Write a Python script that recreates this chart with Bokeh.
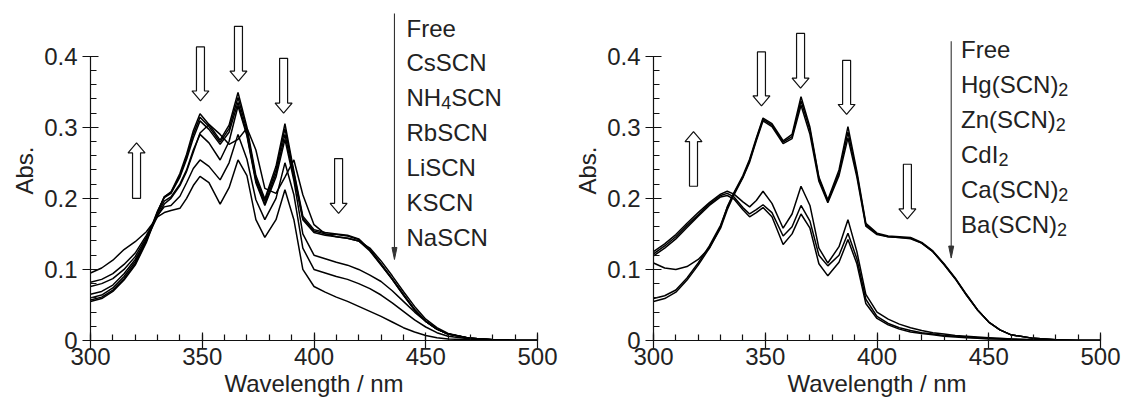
import math, re
from bokeh.plotting import figure
from bokeh.models import Range1d, FixedTicker, CustomJSTickFormatter, Title
from bokeh.layouts import row
from bokeh.embed import file_html
from bokeh.resources import INLINE
from bokeh.core.properties import value

# ---------------- data ----------------
WAVELENGTH = [300, 305, 310, 315, 320, 325, 330, 333, 336, 340, 343, 346, 349, 353, 358, 362, 366, 370,
              374, 378, 383, 387, 391, 395, 400, 405, 410, 415, 420, 425, 430, 435, 440, 445, 450, 455,
              460, 470, 480, 490, 500]

LEFT_NAMES = ["Free", "CsSCN", "NH4SCN", "RbSCN", "LiSCN", "KSCN", "NaSCN"]
left_free = [0.055, 0.059, 0.069, 0.085, 0.106, 0.138, 0.180, 0.202, 0.209, 0.235, 0.262, 0.295, 0.319, 0.304, 0.282, 0.303, 0.349, 0.300,
             0.232, 0.199, 0.245, 0.305, 0.238, 0.175, 0.156, 0.152, 0.150, 0.148, 0.143, 0.128, 0.108, 0.087, 0.065, 0.044, 0.027, 0.016,
             0.009, 0.003, 0.001, 0.0, 0.0]
left_cs = [0.057, 0.061, 0.071, 0.087, 0.108, 0.140, 0.181, 0.202, 0.208, 0.232, 0.258, 0.290, 0.314, 0.301, 0.279, 0.298, 0.342, 0.295,
           0.228, 0.196, 0.240, 0.298, 0.235, 0.172, 0.154, 0.150, 0.149, 0.147, 0.142, 0.127, 0.107, 0.086, 0.064, 0.043, 0.027, 0.016,
           0.009, 0.003, 0.001, 0.0, 0.0]
left_nh4 = [0.060, 0.064, 0.074, 0.090, 0.111, 0.142, 0.182, 0.201, 0.207, 0.230, 0.255, 0.285, 0.309, 0.297, 0.276, 0.293, 0.335, 0.290,
            0.225, 0.192, 0.235, 0.290, 0.230, 0.170, 0.152, 0.148, 0.146, 0.144, 0.140, 0.126, 0.106, 0.086, 0.064, 0.043, 0.027, 0.016,
            0.009, 0.003, 0.001, 0.0, 0.0]
left_rb = [0.065, 0.069, 0.078, 0.094, 0.114, 0.142, 0.175, 0.192, 0.200, 0.218, 0.238, 0.265, 0.292, 0.304, 0.290, 0.276, 0.283, 0.299,
           0.268, 0.214, 0.207, 0.230, 0.254, 0.205, 0.163, 0.150, 0.146, 0.144, 0.140, 0.130, 0.112, 0.091, 0.069, 0.048, 0.030, 0.018,
           0.010, 0.003, 0.001, 0.0, 0.0]
left_li = [0.076, 0.080, 0.087, 0.100, 0.118, 0.145, 0.178, 0.196, 0.202, 0.220, 0.240, 0.268, 0.290, 0.278, 0.254, 0.280, 0.330, 0.288,
           0.222, 0.190, 0.230, 0.283, 0.225, 0.150, 0.120, 0.115, 0.110, 0.106, 0.100, 0.092, 0.083, 0.070, 0.055, 0.040, 0.027, 0.016,
           0.009, 0.003, 0.001, 0.0, 0.0]
left_k = [0.082, 0.086, 0.094, 0.107, 0.123, 0.148, 0.176, 0.188, 0.190, 0.203, 0.222, 0.242, 0.254, 0.245, 0.226, 0.250, 0.290, 0.255,
          0.198, 0.170, 0.200, 0.250, 0.205, 0.130, 0.100, 0.095, 0.090, 0.086, 0.080, 0.073, 0.064, 0.053, 0.041, 0.029, 0.019, 0.011,
          0.006, 0.002, 0.001, 0.0, 0.0]
left_na = [0.095, 0.102, 0.113, 0.128, 0.139, 0.153, 0.174, 0.180, 0.183, 0.186, 0.200, 0.218, 0.231, 0.222, 0.192, 0.215, 0.254, 0.232,
           0.170, 0.145, 0.170, 0.212, 0.170, 0.100, 0.076, 0.068, 0.061, 0.055, 0.048, 0.041, 0.034, 0.026, 0.018, 0.012, 0.007, 0.004,
           0.002, 0.001, 0.0, 0.0, 0.0]

RIGHT_NAMES = ["Free", "Hg(SCN)2", "Zn(SCN)2", "CdI2", "Ca(SCN)2", "Ba(SCN)2"]
right_free = [0.055, 0.059, 0.068, 0.085, 0.106, 0.130, 0.160, 0.188, 0.208, 0.232, 0.255, 0.285, 0.313, 0.305, 0.281, 0.290, 0.343, 0.300,
              0.230, 0.198, 0.240, 0.301, 0.238, 0.165, 0.151, 0.147, 0.146, 0.145, 0.138, 0.126, 0.108, 0.088, 0.065, 0.043, 0.026, 0.015,
              0.008, 0.003, 0.001, 0.0, 0.0]
right_hg = [0.059, 0.063, 0.071, 0.088, 0.109, 0.133, 0.162, 0.187, 0.207, 0.230, 0.253, 0.283, 0.311, 0.303, 0.279, 0.287, 0.337, 0.296,
            0.228, 0.196, 0.236, 0.293, 0.234, 0.163, 0.150, 0.146, 0.145, 0.144, 0.137, 0.125, 0.107, 0.087, 0.064, 0.043, 0.026, 0.015,
            0.008, 0.003, 0.001, 0.0, 0.0]
right_zn = [0.109, 0.102, 0.100, 0.104, 0.114, 0.130, 0.158, 0.184, 0.205, 0.229, 0.251, 0.281, 0.309, 0.301, 0.277, 0.284, 0.331, 0.290,
            0.224, 0.194, 0.232, 0.285, 0.230, 0.161, 0.149, 0.146, 0.145, 0.143, 0.137, 0.125, 0.107, 0.087, 0.064, 0.043, 0.026, 0.015,
            0.008, 0.003, 0.001, 0.0, 0.0]
right_cd = [0.125, 0.136, 0.149, 0.165, 0.180, 0.194, 0.206, 0.210, 0.206, 0.195, 0.188, 0.197, 0.210, 0.193, 0.158, 0.178, 0.217, 0.190,
            0.130, 0.109, 0.132, 0.170, 0.125, 0.065, 0.040, 0.030, 0.023, 0.018, 0.014, 0.011, 0.009, 0.007, 0.006, 0.005, 0.004, 0.003,
            0.002, 0.001, 0.0, 0.0, 0.0]
right_ca = [0.122, 0.133, 0.146, 0.162, 0.177, 0.192, 0.204, 0.207, 0.202, 0.187, 0.178, 0.184, 0.191, 0.180, 0.147, 0.160, 0.190, 0.168,
            0.120, 0.105, 0.120, 0.151, 0.115, 0.058, 0.034, 0.024, 0.018, 0.014, 0.011, 0.009, 0.007, 0.006, 0.005, 0.004, 0.003, 0.002,
            0.002, 0.001, 0.0, 0.0, 0.0]
right_ba = [0.119, 0.130, 0.143, 0.159, 0.175, 0.190, 0.202, 0.204, 0.199, 0.184, 0.174, 0.180, 0.187, 0.174, 0.135, 0.150, 0.178, 0.158,
            0.108, 0.091, 0.110, 0.142, 0.108, 0.052, 0.031, 0.022, 0.016, 0.012, 0.010, 0.008, 0.006, 0.005, 0.004, 0.003, 0.002, 0.002,
            0.001, 0.001, 0.0, 0.0, 0.0]

LEFT_SERIES = [left_free, left_cs, left_nh4, left_rb, left_li, left_k, left_na]
RIGHT_SERIES = [right_free, right_hg, right_zn, right_cd, right_ca, right_ba]

X_TICKS = [300, 350, 400, 450, 500]
Y_TICKS = [0, 0.1, 0.2, 0.3, 0.4]

# block arrows: (wavelength, start absorbance, tip absorbance)
LEFT_ARROWS = [(320.6, 0.200, 0.278), (349.2, 0.413, 0.337), (366.2, 0.442, 0.365),
               (386.4, 0.397, 0.320), (411.0, 0.256, 0.179)]
RIGHT_ARROWS = [(317.9, 0.217, 0.294), (348.3, 0.406, 0.330), (365.8, 0.432, 0.355),
                (386.4, 0.394, 0.318), (413.6, 0.248, 0.171)]

# legend placement: text x, first row y, arrow x, arrow top, arrow bottom
LEFT_LEGEND = dict(tx=441.4, y0=0.4375, ax=436.0, atop=0.460, abot=0.114)
RIGHT_LEGEND = dict(tx=437.6, y0=0.4069, ax=433.2, atop=0.421, abot=0.116)
ROW_STEP = 0.0490

FONT = "Liberation Sans"
TXT = "#222222"
FS = 24
SUB_FS = 18
NM_PER_PX = 200.0 / 447.0
ABS_PER_PX = 1.0 / 710.75

ARIAL_W = {'F': .611, 'r': .333, 'e': .556, 'C': .722, 's': .5, 'S': .667, 'N': .722, 'H': .722,
           'R': .722, 'b': .556, 'L': .556, 'i': .222, 'K': .667, 'a': .556, 'g': .556, '(': .333,
           ')': .333, 'Z': .611, 'n': .556, 'd': .556, 'I': .278, 'B': .667, '2': .556, '4': .556}


def width_px(s, size):
    return sum(ARIAL_W.get(c, .6) for c in s) * size


def make_panel(series, names, arrows, legend, border_left, border_right, abs_offset, title_standoff):
    yr_end = 340 * ABS_PER_PX
    p = figure(frame_width=447, frame_height=340, x_range=Range1d(300, 500), y_range=Range1d(0, yr_end),
               output_backend="svg", toolbar_location=None, min_border_left=border_left,
               min_border_right=border_right, min_border_top=0, min_border_bottom=60,
               background_fill_color="white", border_fill_color="white")
    p.outline_line_color = None
    p.grid.visible = False

    for ax in (p.xaxis[0], p.yaxis[0]):
        ax.axis_line_color = "#111111"
        ax.axis_line_width = 1.2
        ax.major_tick_line_color = "#111111"
        ax.minor_tick_line_color = "#111111"
        ax.major_tick_line_width = 1.2
        ax.minor_tick_line_width = 1.2
        ax.major_tick_in = 8
        ax.major_tick_out = 8
        ax.minor_tick_in = 6
        ax.minor_tick_out = 0
        ax.major_label_text_font = FONT
        ax.major_label_text_font_size = f"{FS}px"
        ax.major_label_text_color = TXT
    p.xaxis[0].ticker = FixedTicker(ticks=X_TICKS, minor_ticks=list(range(300, 501, 10)))
    p.yaxis[0].ticker = FixedTicker(ticks=Y_TICKS, minor_ticks=[round(i * 0.02, 2) for i in range(21)])
    p.yaxis[0].bounds = (0, 0.4)
    p.yaxis[0].formatter = CustomJSTickFormatter(code="return tick == 0 ? '0' : tick.toFixed(1);")
    p.xaxis[0].major_label_standoff = -1
    p.yaxis[0].major_label_standoff = 5

    xa = p.xaxis[0]
    xa.axis_label = "Wavelength / nm"
    xa.axis_label_text_font = FONT
    xa.axis_label_text_font_size = f"{FS}px"
    xa.axis_label_text_font_style = "normal"
    xa.axis_label_text_color = TXT
    xa.axis_label_standoff = 2

    p.add_layout(Title(text="Abs.", align="center", offset=abs_offset, standoff=title_standoff,
                       text_font=FONT, text_font_size=f"{FS}px", text_font_style="normal",
                       text_color=TXT), "left")

    for ys in series:
        p.line(WAVELENGTH, ys, line_color="#000000", line_width=1.5)

    # hollow block arrows
    sw = 4.0 * NM_PER_PX
    hw = 8.5 * NM_PER_PX
    hl = 10 * ABS_PER_PX
    xs_all, ys_all = [], []
    for cx, y0, y1 in arrows:
        d = 1 if y1 > y0 else -1
        hb = y1 - d * hl
        xs_all.append([cx - sw, cx + sw, cx + sw, cx + hw, cx, cx - hw, cx - sw])
        ys_all.append([y0, y0, hb, hb, y1, hb, hb])
    p.patches(xs_all, ys_all, fill_color="white", line_color="#111111", line_width=1.2)

    # legend arrow
    p.segment(x0=[legend["ax"]], y0=[legend["atop"]], x1=[legend["ax"]], y1=[legend["abot"] + 8 * ABS_PER_PX],
              line_color="#333333", line_width=1.1)
    p.patch([legend["ax"] - 2.5 * NM_PER_PX, legend["ax"] + 2.5 * NM_PER_PX, legend["ax"]],
            [legend["abot"] + 12 * ABS_PER_PX, legend["abot"] + 12 * ABS_PER_PX, legend["abot"]],
            fill_color="#333333", line_color="#333333", line_width=1)

    # legend text with subscripts
    for i, name in enumerate(names):
        yc = legend["y0"] - i * ROW_STEP
        offs = 0.0
        for seg in re.findall(r"\d+|\D+", name):
            sub = seg.isdigit()
            size = SUB_FS if sub else FS
            p.text(x=[legend["tx"]], y=[yc], text=[seg], x_offset=offs,
                   y_offset=-1.4 + (5 if sub else 0),
                   text_font=value(FONT), text_font_size=value(f"{size}px"), text_color=TXT,
                   text_align="left", text_baseline="alphabetic")
            offs += width_px(seg, size)
    return p


left = make_panel(LEFT_SERIES, LEFT_NAMES, LEFT_ARROWS, LEFT_LEGEND, 90, 23, 0, 8)
right = make_panel(RIGHT_SERIES, RIGHT_NAMES, RIGHT_ARROWS, RIGHT_LEGEND, 93, 25, 10, 8)

layout = row(left, right)
open("out.html", "w").write(file_html(layout, INLINE))
